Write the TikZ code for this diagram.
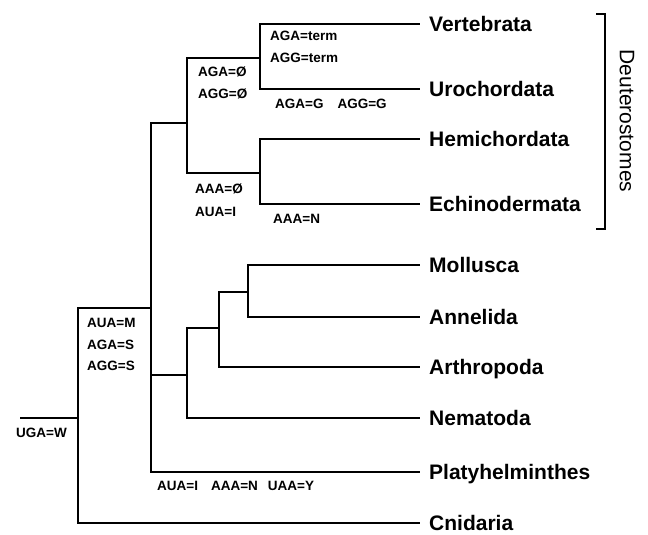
\documentclass[tikz,border=0pt]{standalone}
\usepackage{fontspec}
\setmainfont{Liberation Sans}
\usetikzlibrary{positioning}
\tikzstyle{taxon} = [anchor=west, inner xsep=9pt, inner ysep=0pt,
  font=\fontsize{21}{21}\selectfont\bfseries, text height=15pt, text depth=0pt]
\tikzstyle{codon} = [anchor=west, inner sep=0pt,
  font=\fontsize{13.5}{13.5}\selectfont\bfseries, text height=10pt, text depth=0pt]
\tikzstyle{branch} = [line width=2pt, line join=miter]
\tikzstyle{groupname} = [rotate=-90, inner sep=0pt, font=\fontsize{21}{21}\selectfont]
\begin{document}
\begin{tikzpicture}[x=1pt, y=-1pt]
  \useasboundingbox (0,0) rectangle (648,535);

  % === TAXA ===
  \node (vert)  [taxon] at (420,24)  {Vertebrata};
  \node (uro)   [taxon] at (420,89)  {Urochordata};
  \node (hemi)  [taxon] at (420,139) {Hemichordata};
  \node (echi)  [taxon] at (420,204) {Echinodermata};
  \node (moll)  [taxon] at (420,265) {Mollusca};
  \node (anne)  [taxon] at (420,317) {Annelida};
  \node (arth)  [taxon] at (420,367) {Arthropoda};
  \node (nema)  [taxon] at (420,418) {Nematoda};
  \node (platy) [taxon] at (420,472) {Platyhelminthes};
  \node (cnid)  [taxon] at (420,523) {Cnidaria};

  % === INNER NODES ===
  \coordinate (root)  at (20,418);
  \coordinate (metaz) at (78,418);
  \coordinate (bila)  at (151,308);
  \coordinate (deut)  at (187,123);
  \coordinate (chord) at (260,58);
  \coordinate (ambul) at (260,173);
  \coordinate (prot)  at (187,375);
  \coordinate (coel)  at (219,328);
  \coordinate (loph)  at (248,292);

  % === BRANCHES ===
  \draw[branch] (root) -- (metaz);
  \draw[branch] (metaz) |- (bila);
  \draw[branch] (metaz) |- (cnid.west);
  \draw[branch] (bila) |- (deut);
  \draw[branch] (bila) |- (prot);
  \draw[branch] (bila) |- (platy.west);
  \draw[branch] (deut) |- (chord);
  \draw[branch] (deut) |- (ambul);
  \draw[branch] (chord) |- (vert.west);
  \draw[branch] (chord) |- (uro.west);
  \draw[branch] (ambul) |- (hemi.west);
  \draw[branch] (ambul) |- (echi.west);
  \draw[branch] (prot) |- (coel);
  \draw[branch] (prot) |- (nema.west);
  \draw[branch] (coel) |- (loph);
  \draw[branch] (coel) |- (arth.west);
  \draw[branch] (loph) |- (moll.west);
  \draw[branch] (loph) |- (anne.west);

  % === CODE CHANGES ===
  \node (c1)  [codon] at (16,432)  {UGA=W};
  \node (c2)  [codon] at (87,322)  {AUA=M};
  \node (c3)  [codon] at (87,344)  {AGA=S};
  \node (c4)  [codon] at (87,365)  {AGG=S};
  \node (c5)  [codon] at (198,72)  {AGA=Ø};
  \node (c6)  [codon] at (198,94)  {AGG=Ø};
  \node (c7)  [codon] at (270,36)  {AGA=term};
  \node (c8)  [codon] at (270,58)  {AGG=term};
  \node (c9)  [codon] at (275,103) {AGA=G\hspace{14pt}AGG=G};
  \node (c10) [codon] at (195,188) {AAA=Ø};
  \node (c11) [codon] at (195,211) {AUA=I};
  \node (c12) [codon] at (273,218) {AAA=N};
  \node (c13) [codon] at (157,485) {AUA=I\hspace{13pt}AAA=N\hspace{10pt}UAA=Y};

  % === DEUTEROSTOMES ===
  \coordinate (brtop) at (596,14);
  \coordinate (brbot) at (596,229);
  \draw[branch] (brtop) -- ++(9,0) |- (brbot);
  \node (deutlab) [groupname] at (627,121) {Deuterostomes};

\end{tikzpicture}
\end{document}
